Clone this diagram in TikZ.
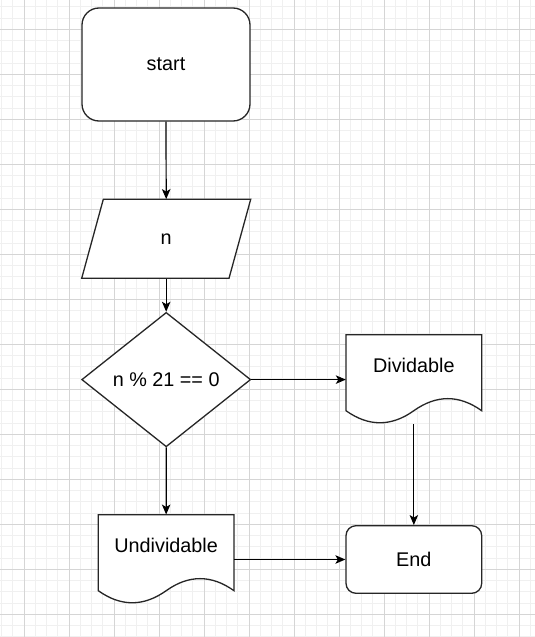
\documentclass[tikz,border=0pt]{standalone}
\usepackage{fontspec}
\setmainfont{Liberation Sans}
\usetikzlibrary{shapes.geometric,arrows.meta}
\definecolor{minorgrid}{HTML}{F0F0F0}
\definecolor{majorgrid}{HTML}{D5D5D5}
\tikzset{
  minorline/.style={draw=minorgrid,line width=1pt},
  majorline/.style={draw=majorgrid,line width=1pt},
  shapeline/.style={draw=black!85,line width=1.3pt,fill=white},
  txt/.style={font=\fontsize{19.8}{24}\selectfont,text=black,inner sep=0pt},
  roundbox/.style={shapeline,txt,rectangle,minimum width=#1},
  hidden/.style={draw=none,fill=none,inner sep=0pt,rectangle},
  conn/.style={draw=black,line width=1.2pt,-{Stealth[length=10pt,width=8.5pt,inset=2.5pt]}},
  docshape/.pic={
    \draw[shapeline] (0,0) -- (135.7,0) -- (135.7,76)
      .. controls (113.08,59.9) and (90.47,59.9) .. (67.85,76)
      .. controls (45.23,92.09) and (22.62,92.09) .. (0,76) -- cycle;
  }
}
\begin{document}
\begin{tikzpicture}[x=1pt,y=-1pt]
\useasboundingbox (0,0) rectangle (535,637);
\fill[white] (0,0) rectangle (535,637);
% grid
\foreach \i in {0,...,47} \draw[minorline] (1.5+11.25*\i,0) -- (1.5+11.25*\i,637);
\foreach \i in {0,...,56} \draw[minorline] (0,6.8+11.25*\i) -- (535,6.8+11.25*\i);
\foreach \i in {0,...,11} \draw[majorline] (24+45*\i,0) -- (24+45*\i,637);
\foreach \i in {0,...,13} \draw[majorline] (0,29.3+45*\i) -- (535,29.3+45*\i);

% start
\node[shapeline,txt,rectangle,rounded corners=17pt,minimum width=168pt,minimum height=113pt] (start) at (166,64.5) {start};

% input parallelogram
\node[hidden,minimum width=169pt,minimum height=79pt] (inp) at (166.2,238.8) {};
\draw[shapeline] (103.3,199.3) -- (250.7,199.3) -- (229,278.3) -- (81.7,278.3) -- cycle;
\node[txt] (inptext) at (166.2,238.8) {n};

% decision
\node[shapeline,txt,diamond,minimum width=169pt,minimum height=134.4pt] (dec) at (166.2,379.6) {n \% 21 == 0};

% Dividable document
\pic at (346,334.7) {docshape};
\node[hidden,minimum width=135.7pt,minimum height=89.4pt] (div) at (413.85,379.4) {};
\node[txt] (divtext) at (413.85,365.7) {Dividable};

% Undividable document
\pic at (98.3,514.7) {docshape};
\node[hidden,minimum width=135.7pt,minimum height=89.4pt] (undiv) at (166.15,559.4) {};
\node[txt] (undivtext) at (166.15,545.7) {Undividable};

% End
\node[shapeline,txt,rectangle,rounded corners=10pt,minimum width=135.7pt,minimum height=67.6pt] (end) at (413.85,559.5) {End};

% connectors
\draw[conn] (start.south) -- (inp.north);
\draw[conn] (inp.south) -- (dec.north);
\draw[conn] (dec.east) -- (dec.east -| div.west);
\draw[conn] (dec.south) -- (undiv.north);
\draw[conn] (div.south) -- (end.north);
\draw[conn] (undiv.east |- end.west) -- (end.west);
\end{tikzpicture}
\end{document}
